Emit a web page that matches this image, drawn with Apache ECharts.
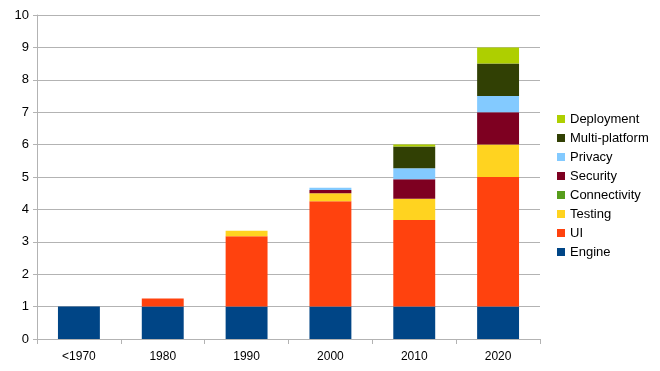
<!DOCTYPE html>
<html><head><meta charset="utf-8">
<script src="https://cdn.jsdelivr.net/npm/echarts@6/dist/echarts.min.js"></script>
<style>html,body{margin:0;padding:0;background:#fff}#c{width:660px;height:371px}</style>
</head><body><div id="c"></div>
<script>
const categories = ['<1970', '1980', '1990', '2000', '2010', '2020'];
const engine        = [1, 1, 1, 1, 1, 1];
const ui            = [0, 0.25, 2.17, 3.25, 2.67, 4];
const testing       = [0, 0, 0.17, 0.25, 0.66, 1];
const connectivity  = [0, 0, 0, 0, 0, 0];
const security      = [0, 0, 0, 0.1, 0.6, 1];
const privacy       = [0, 0, 0, 0.07, 0.34, 0.5];
const multiplatform = [0, 0, 0, 0, 0.67, 1];
const deployment    = [0, 0, 0, 0, 0.06, 0.5];
const yTicks = [0, 10, 1];

const seriesDefs = [
  ['Engine', engine, '#004586'],
  ['UI', ui, '#ff420e'],
  ['Testing', testing, '#ffd320'],
  ['Connectivity', connectivity, '#579d1c'],
  ['Security', security, '#7e0021'],
  ['Privacy', privacy, '#83caff'],
  ['Multi-platform', multiplatform, '#314004'],
  ['Deployment', deployment, '#aecf00']
];
const chart = echarts.init(document.getElementById('c'), null, {renderer: 'canvas'});
chart.setOption({
  animation: false,
  backgroundColor: '#fff',
  textStyle: {fontFamily: 'Liberation Sans'},
  grid: {left: 37, right: 120, top: 15, bottom: 32, containLabel: false},
  legend: {
    orient: 'vertical', left: 557, top: 112, padding: 0,
    itemWidth: 8, itemHeight: 8, itemGap: 5,
    icon: 'rect',
    textStyle: {fontSize: 13, color: '#000', lineHeight: 14, fontFamily: 'Liberation Sans'},
    data: seriesDefs.map(s => s[0]).reverse()
  },
  xAxis: {
    type: 'category', data: categories,
    axisLine: {lineStyle: {color: '#b3b3b3', width: 1}},
    axisTick: {show: true, length: 5, lineStyle: {color: '#b3b3b3'}},
    axisLabel: {fontSize: 12, color: '#000', margin: 12, fontFamily: 'Liberation Sans'}
  },
  yAxis: {
    type: 'value', min: yTicks[0], max: yTicks[1], interval: yTicks[2],
    axisLine: {show: true, lineStyle: {color: '#b3b3b3'}},
    axisTick: {show: true, length: 4, lineStyle: {color: '#b3b3b3'}},
    splitLine: {lineStyle: {color: '#b3b3b3'}},
    axisLabel: {fontSize: 13, color: '#000', margin: 8, fontFamily: 'Liberation Sans'}
  },
  series: seriesDefs.map(s => ({
    name: s[0], type: 'bar', stack: 'a', data: s[1],
    barWidth: '50%',
    itemStyle: {color: s[2]}
  }))
});
</script></body></html>
